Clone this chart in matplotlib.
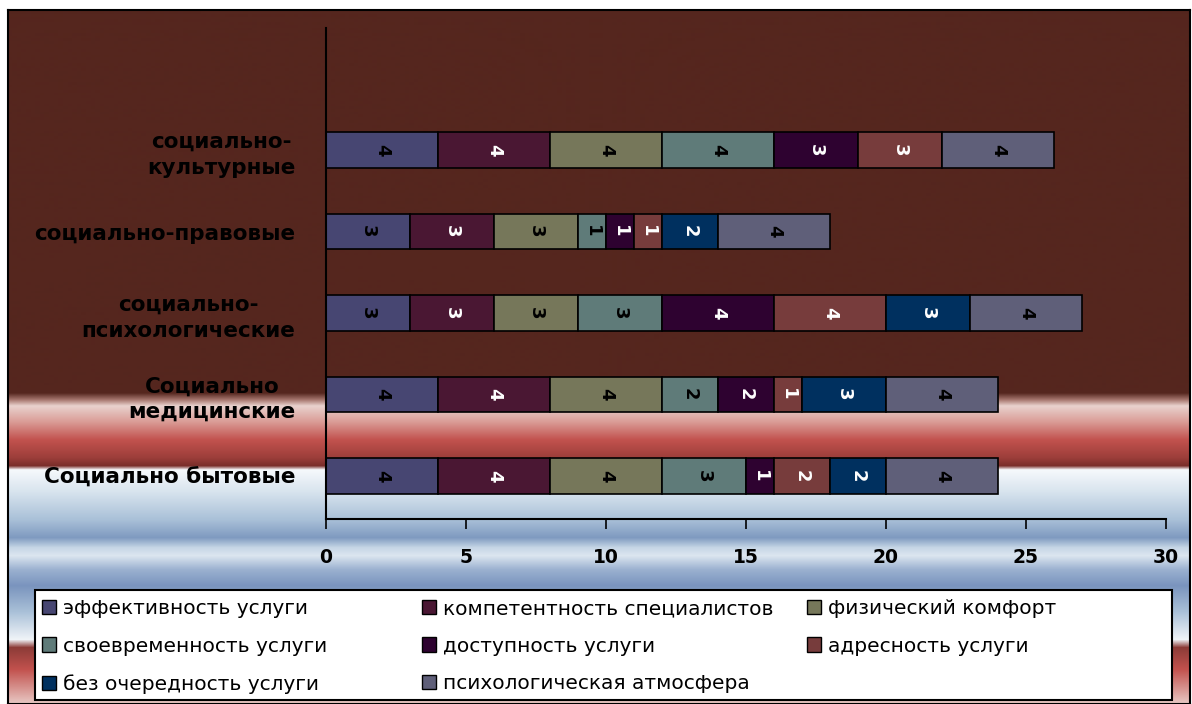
import numpy as np
import matplotlib.pyplot as plt
from matplotlib.patches import Patch, Rectangle

categories = ['Социально бытовые', 'Социально\nмедицинские', 'социально-\nпсихологические',
              'социально-правовые', 'социально-\nкультурные']

series_names = ['эффективность услуги', 'компетентность специалистов', 'физический комфорт',
                'своевременность услуги', 'доступность услуги', 'адресность услуги',
                'без очередность услуги', 'психологическая атмосфера']

effectiveness = [4, 4, 3, 3, 4]
competence = [4, 4, 3, 3, 4]
comfort = [4, 4, 3, 3, 4]
timeliness = [3, 2, 3, 1, 4]
accessibility = [1, 2, 4, 1, 3]
targeting = [2, 1, 4, 1, 3]
no_queue = [2, 3, 3, 2, 0]
atmosphere = [4, 4, 4, 4, 4]

series_values = [effectiveness, competence, comfort, timeliness,
                 accessibility, targeting, no_queue, atmosphere]
colors = ['#474672', '#4A1733', '#76775A', '#5F7B79', '#2E0230', '#773C3C', '#00305F', '#5F5F79']
text_colors = ['black', 'white', 'black', 'black', 'white', 'white', 'white', 'black']

W, H = 1192, 704
fig = plt.figure(figsize=(W / 100, H / 100), dpi=100)
fig.patch.set_facecolor('white')

# background panel with a vertical colour gradient
stops = [(0, '#55261E'), (393, '#55261E'), (400, '#A87870'), (406, '#E9D2CE'),
         (422, '#DA9C96'), (440, '#C2524E'), (458, '#9C3E3A'), (466, '#7A2E2A'),
         (470, '#F6F9FC'), (492, '#D8E4EE'), (520, '#A9C0D8'), (538, '#7F9AC0'),
         (548, '#C6D6E6'), (556, '#DCE6F0'), (570, '#9BB1D0'), (586, '#7A94BE'),
         (612, '#A9C0D8'), (640, '#F0F4F8'), (648, '#8C3B37'), (670, '#C2524E'),
         (704, '#E8C8C4')]
ys = np.array([s[0] for s in stops], dtype=float)
rgb = np.array([plt.matplotlib.colors.to_rgb(s[1]) for s in stops])
rows = np.arange(10, H + 1)
grad = np.stack([np.interp(rows, ys, rgb[:, k]) for k in range(3)], axis=1)[:, None, :]

bg = fig.add_axes([8 / W, 0, (1190 - 8) / W, (H - 10) / H])
bg.imshow(grad, aspect='auto', extent=[0, 1, 0, 1])
bg.set_xticks([])
bg.set_yticks([])
for s in bg.spines.values():
    s.set_linewidth(1.5)
    s.set_color('black')

ax = fig.add_axes([326 / W, 1 - 519 / H, (1166 - 326) / W, (519 - 28) / H])
ax.patch.set_alpha(0)

y = np.arange(len(categories))
left = np.zeros(len(categories))
for vals, name, col, tcol in zip(series_values, series_names, colors, text_colors):
    bars = ax.barh(y, vals, left=left, height=0.44, color=col, edgecolor='black',
                   linewidth=1.2, label=name)
    labels = [str(v) if v else '' for v in vals]
    ax.bar_label(bars, labels=labels, label_type='center', rotation=-90,
                 color=tcol, fontsize=13, fontweight='bold', family='DejaVu Sans')
    left += np.array(vals)

ax.set_xlim(0, 30)
ax.set_ylim(-0.53, 5.5)
ax.set_xticks(range(0, 31, 5))
ax.set_yticks(y)
ax.set_yticklabels(categories, fontsize=15.5, fontweight='bold', family='DejaVu Sans',
                   multialignment='center', linespacing=1.35)
ax.tick_params(axis='y', length=0, pad=22)
ax.tick_params(axis='x', direction='out', length=7, width=1.2, pad=14,
               labelsize=13.5)
for lbl in ax.get_xticklabels():
    lbl.set_fontweight('bold')
    lbl.set_family('DejaVu Sans')
ax.spines['top'].set_visible(False)
ax.spines['right'].set_visible(False)
ax.spines['left'].set_linewidth(1.5)
ax.spines['bottom'].set_linewidth(1.5)

# legend box with three columns filled row by row
fig.add_artist(Rectangle((35 / W, 1 - 700 / H), (1172 - 35) / W, 110 / H,
                         transform=fig.transFigure, facecolor='white',
                         edgecolor='black', linewidth=1.5))
columns = [[0, 3, 6], [1, 4, 7], [2, 5]]
col_x = [38, 418, 803]
for idx, x0 in zip(columns, col_x):
    handles = [Patch(facecolor=colors[i], edgecolor='black', linewidth=1) for i in idx]
    fig.legend(handles, [series_names[i] for i in idx], loc='upper left',
               bbox_to_anchor=(x0 / W, 1 - 595 / H), borderaxespad=0, frameon=False,
               prop={'family': 'DejaVu Sans', 'size': 14.5},
               handlelength=0.7, handleheight=0.7, handletextpad=0.35,
               labelspacing=0.92, borderpad=0.2)

fig.savefig('out.png', dpi=100)
